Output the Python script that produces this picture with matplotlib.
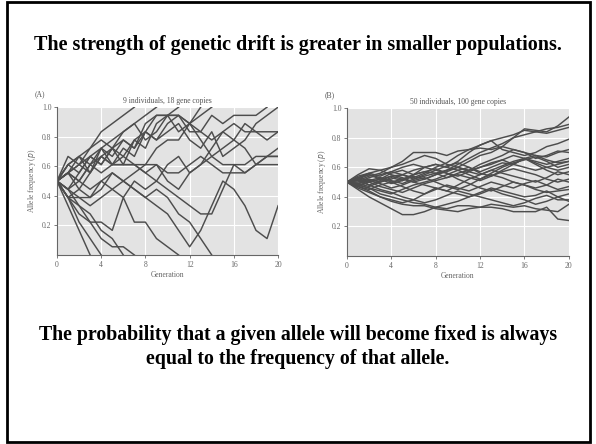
import matplotlib
matplotlib.use("Agg")
import matplotlib.pyplot as plt
from matplotlib.patches import Rectangle

# Panel A: allele counts out of 18 gene copies, one list per replicate (stops at fixation)
copies_a = 18
runs_a = [
    [9, 11, 12, 13, 15, 16, 17, 18],
    [9, 12, 11, 13, 14, 13, 15, 16, 17, 18],
    [9, 10, 12, 11, 13, 12, 14, 13, 16, 17, 17, 18],
    [9, 8, 10, 12, 11, 13, 11, 14, 15, 17, 17, 17, 16, 18],
    [9, 11, 10, 12, 13, 11, 12, 14, 13, 16, 17, 15, 16, 17, 18],
    [9, 10, 11, 10, 12, 13, 14, 13, 15, 14, 16, 17, 16, 15, 17, 16, 17, 17, 17, 18],
    [9, 10, 9, 11, 12, 11, 13, 12, 15, 14, 15, 16, 14, 13, 15, 12, 13, 14, 16, 17, 18],
    [9, 11, 12, 10, 13, 14, 15, 16, 14, 15, 17, 17, 15, 15, 14, 15, 16, 15, 15, 15, 15],
    [9, 8, 9, 11, 10, 11, 11, 11, 11, 13, 14, 14, 16, 14, 12, 13, 14, 16, 15, 14, 15],
    [9, 10, 8, 10, 12, 11, 11, 11, 10, 9, 11, 12, 10, 11, 12, 11, 11, 10, 11, 12, 13],
    [9, 7, 8, 7, 9, 8, 7, 9, 8, 9, 8, 7, 6, 5, 5, 8, 11, 11, 12, 12, 12],
    [9, 8, 7, 7, 8, 10, 9, 10, 11, 11, 10, 10, 11, 12, 11, 10, 10, 10, 11, 11, 11],
    [9, 7, 7, 6, 7, 8, 9, 8, 7, 6, 5, 3, 1, 3, 6, 9, 8, 6, 3, 2, 6],
    [9, 10, 9, 8, 9, 10, 9, 8, 7, 8, 7, 5, 4, 2, 0],
    [9, 7, 6, 4, 4, 3, 7, 4, 4, 2, 1, 0],
    [9, 7, 5, 4, 2, 1, 1, 0],
    [9, 8, 6, 5, 3, 2, 0],
    [9, 7, 4, 2, 0],
    [9, 6, 3, 0],
    [9, 10, 11, 12, 11, 13, 12, 11, 10, 11, 9, 8, 10, 11, 13, 15, 14, 13, 11, 12, 12],
]

# Panel B: allele frequency in percent, 100 gene copies
runs_b = [
    [50, 55, 59, 58, 60, 64, 70, 70, 70, 68, 71, 72, 73, 72, 74, 72, 70, 68, 67, 70, 72],
    [50, 49, 52, 50, 53, 51, 55, 57, 56, 58, 62, 66, 70, 73, 76, 80, 86, 85, 84, 88, 94],
    [50, 52, 48, 51, 54, 55, 53, 56, 60, 63, 68, 72, 75, 78, 80, 82, 85, 84, 86, 87, 89],
    [50, 47, 50, 52, 49, 51, 54, 52, 55, 58, 60, 64, 68, 70, 74, 80, 82, 84, 83, 85, 87],
    [50, 53, 55, 52, 56, 58, 55, 60, 62, 60, 64, 70, 75, 78, 72, 70, 68, 70, 74, 76, 79],
    [50, 51, 54, 56, 60, 62, 65, 68, 66, 62, 60, 58, 62, 65, 68, 72, 70, 66, 68, 71, 70],
    [50, 48, 46, 44, 42, 45, 48, 50, 52, 55, 58, 60, 56, 54, 58, 62, 66, 64, 62, 64, 66],
    [50, 52, 50, 47, 45, 43, 46, 49, 51, 53, 56, 58, 60, 63, 65, 62, 60, 58, 60, 62, 64],
    [50, 49, 47, 50, 52, 55, 58, 60, 62, 60, 58, 55, 52, 56, 60, 63, 65, 67, 64, 60, 62],
    [50, 54, 56, 58, 55, 53, 50, 52, 55, 57, 60, 57, 55, 58, 61, 64, 66, 63, 60, 58, 60],
    [50, 50, 53, 55, 57, 60, 62, 60, 58, 56, 54, 57, 60, 62, 65, 68, 66, 62, 58, 55, 57],
    [50, 46, 43, 40, 38, 36, 38, 42, 46, 44, 48, 52, 55, 58, 56, 54, 52, 50, 53, 57, 55],
    [50, 53, 51, 49, 46, 48, 51, 53, 50, 47, 45, 48, 52, 55, 53, 50, 48, 46, 48, 52, 50],
    [50, 47, 45, 48, 50, 47, 44, 42, 45, 48, 46, 44, 47, 50, 48, 46, 49, 51, 48, 45, 47],
    [50, 52, 55, 53, 50, 52, 55, 57, 59, 56, 52, 49, 46, 44, 47, 50, 48, 45, 43, 44, 45],
    [50, 48, 50, 52, 54, 52, 50, 48, 46, 44, 42, 40, 43, 46, 44, 42, 40, 41, 44, 40, 42],
    [50, 51, 48, 45, 43, 40, 38, 36, 38, 41, 44, 42, 40, 38, 36, 34, 36, 39, 41, 38, 38],
    [50, 45, 40, 36, 32, 28, 28, 30, 33, 35, 37, 40, 42, 45, 42, 40, 38, 35, 37, 40, 37],
    [50, 48, 46, 42, 40, 38, 36, 35, 33, 32, 34, 34, 33, 33, 32, 30, 30, 30, 33, 25, 24],
    [50, 47, 44, 40, 37, 35, 34, 34, 32, 31, 30, 32, 33, 35, 34, 33, 34, 32, 31, 30, 35],
    [50, 53, 56, 54, 57, 55, 52, 55, 58, 61, 63, 60, 57, 60, 63, 62, 66, 68, 65, 63, 64],
    [50, 49, 51, 53, 51, 49, 52, 54, 56, 53, 55, 53, 51, 54, 57, 59, 57, 55, 52, 50, 52],
]

x_ticks = [0, 4, 8, 12, 16, 20]
y_ticks = [0.2, 0.4, 0.6, 0.8, 1.0]

serif = ["Liberation Serif", "DejaVu Serif"]
fig = plt.figure(figsize=(5.96, 4.44), dpi=100)
fig.patch.set_facecolor("white")

# slide frame
fig.add_artist(Rectangle((0.012, 0.004), 0.978, 0.992, transform=fig.transFigure,
                         fill=False, edgecolor="black", linewidth=2))

fig.text(0.5, 0.899, "The strength of genetic drift is greater in smaller populations.",
         ha="center", va="center", fontsize=14.5, fontweight="bold", family=serif)
fig.text(0.5, 0.218, "The probability that a given allele will become fixed is always\n"
         "equal to the frequency of that allele.",
         ha="center", va="center", fontsize=14.3, fontweight="bold", family=serif,
         linespacing=1.3)


def panel(rect, runs, scale, label, title):
    ax = fig.add_axes(rect)
    ax.set_facecolor("#e3e3e3")
    for r in runs:
        ax.plot(range(len(r)), [v / scale for v in r], color="#4d4d4d", lw=1.05)
    ax.set_xlim(0, 20)
    ax.set_ylim(0, 1)
    ax.set_xticks(x_ticks)
    ax.set_yticks(y_ticks)
    ax.set_yticklabels([f"{t:.1f}" for t in y_ticks])
    ax.grid(color="white", lw=0.8)
    ax.set_axisbelow(True)
    for s in ("top", "right"):
        ax.spines[s].set_visible(False)
    for s in ("left", "bottom"):
        ax.spines[s].set_color("#666666")
        ax.spines[s].set_linewidth(0.8)
    ax.tick_params(labelsize=5.5, colors="#666666", length=2, width=0.6, pad=2)
    for t in ax.get_xticklabels() + ax.get_yticklabels():
        t.set_family(serif)
    ax.set_xlabel("Generation", fontsize=5.5, color="#666666", family=serif, labelpad=2)
    ax.set_ylabel("Allele frequency ($p$)", fontsize=5.5, color="#666666",
                  family=serif, labelpad=3)
    ax.set_title(title, fontsize=5.5, color="#555555", family=serif, pad=3)
    ax.text(-0.1, 1.09, label, transform=ax.transAxes, fontsize=5.5,
            color="#555555", family=serif, va="center")
    return ax


panel([0.0956, 0.4257, 0.371, 0.333], runs_a, copies_a,
      "(A)", "9 individuals, 18 gene copies")
panel([0.582, 0.4234, 0.3725, 0.333], runs_b, 100,
      "(B)", "50 individuals, 100 gene copies")

fig.savefig("out.png", dpi=100)
